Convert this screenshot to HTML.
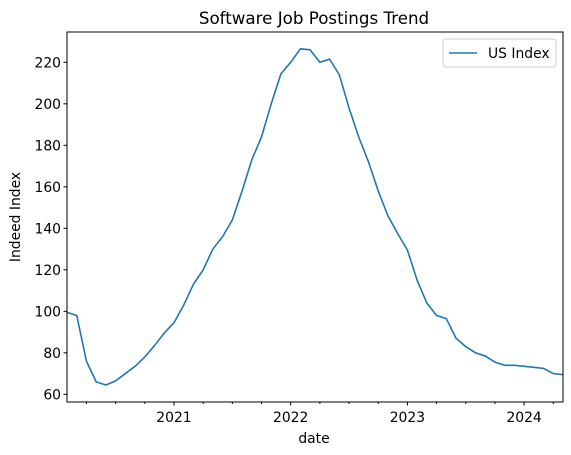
<!DOCTYPE html>
<html><head><meta charset="utf-8"><style>
body{margin:0;background:#fff}
svg{font-family:"DejaVu Sans","Liberation Sans",sans-serif;display:block}
</style></head><body>
<svg id="chart" width="571" height="455" xmlns="http://www.w3.org/2000/svg">
<rect width="571" height="455" fill="#fff"/>
<text x="314" y="24" font-size="16.7" text-anchor="middle">Software Job Postings Trend</text>
<g id="yt"></g><g id="xt"></g>
<path id="line" fill="none" stroke="#1f77b4" stroke-width="1.6" stroke-linejoin="round"/>
<rect x="67" y="32" width="496" height="370" fill="none" stroke="#000" stroke-width="1"/>
<text x="20" y="217" font-size="13.9" text-anchor="middle" transform="rotate(-90 20 217)">Indeed Index</text>
<text x="314" y="443" font-size="13.9" text-anchor="middle">date</text>
<g>
<rect x="443" y="39" width="113" height="28" rx="3" fill="#fff" stroke="#ccc"/>
<line x1="449" y1="53" x2="477" y2="53" stroke="#1f77b4" stroke-width="1.6"/>
<text x="488" y="58" font-size="13.9">US Index</text>
</g>
</svg>
<script>
const startYear = 2020, startMonth = 2;
const values = [99.5,98,76,66,64.5,66.5,70,73.5,78,83.5,89.5,94.5,103,113,120,130,136,144,158,173,184,200,214.5,220,226.5,226,220,221.5,214,198,184,172,158,146,137.5,129.5,115,104,98,96.5,87,83,80,78.5,75.5,74,74,73.5,73,72.5,70,69.5];
const yTicks = [60,80,100,120,140,160,180,200,220];
const xTickYears = [2021,2022,2023,2024];
const L=67,R=563,T=32,B=402;
const t0 = 2020+1/12, t1 = t0+(values.length-1)/12;
const yMin=56.3,yMax=234.6;
const xs=t=>L+(t-t0)/(t1-t0)*(R-L);
const ys=v=>B-(v-yMin)/(yMax-yMin)*(B-T);
const NS="http://www.w3.org/2000/svg";
const line=document.getElementById('line');
line.setAttribute('d',values.map((v,i)=>(i?'L':'M')+xs(t0+i/12).toFixed(2)+','+ys(v).toFixed(2)).join(''));
const yt=document.getElementById('yt');
yTicks.forEach(v=>{
 const y=ys(v);
 const l=document.createElementNS(NS,'line');
 l.setAttribute('x1',L-3.5);l.setAttribute('x2',L);l.setAttribute('y1',y);l.setAttribute('y2',y);l.setAttribute('stroke','#000');
 
 
 yt.appendChild(l);
 const tx=document.createElementNS(NS,'text');
 tx.setAttribute('x',L-6);tx.setAttribute('y',y+5);tx.setAttribute('font-size','13.9');tx.setAttribute('text-anchor','end');
 tx.textContent=v;
 
 
 yt.appendChild(tx);
});
const xt=document.getElementById('xt');
for(let q=Math.ceil(t0*4);q<=Math.floor(t1*4+1e-6);q++){
 const t=q/4,x=xs(t),major=q%4===0;
 const l=document.createElementNS(NS,'line');
 l.setAttribute('x1',x);l.setAttribute('x2',x);l.setAttribute('y1',B);l.setAttribute('y2',B+(major?3.5:2));l.setAttribute('stroke','#000');
 
 
 xt.appendChild(l);
}
xTickYears.forEach(yv=>{
 const tx=document.createElementNS(NS,'text');
 tx.setAttribute('x',xs(yv));tx.setAttribute('y',B+20);tx.setAttribute('font-size','13.9');tx.setAttribute('text-anchor','middle');
 tx.textContent=yv;
 
 
 xt.appendChild(tx);
});
</script>
</body></html>
